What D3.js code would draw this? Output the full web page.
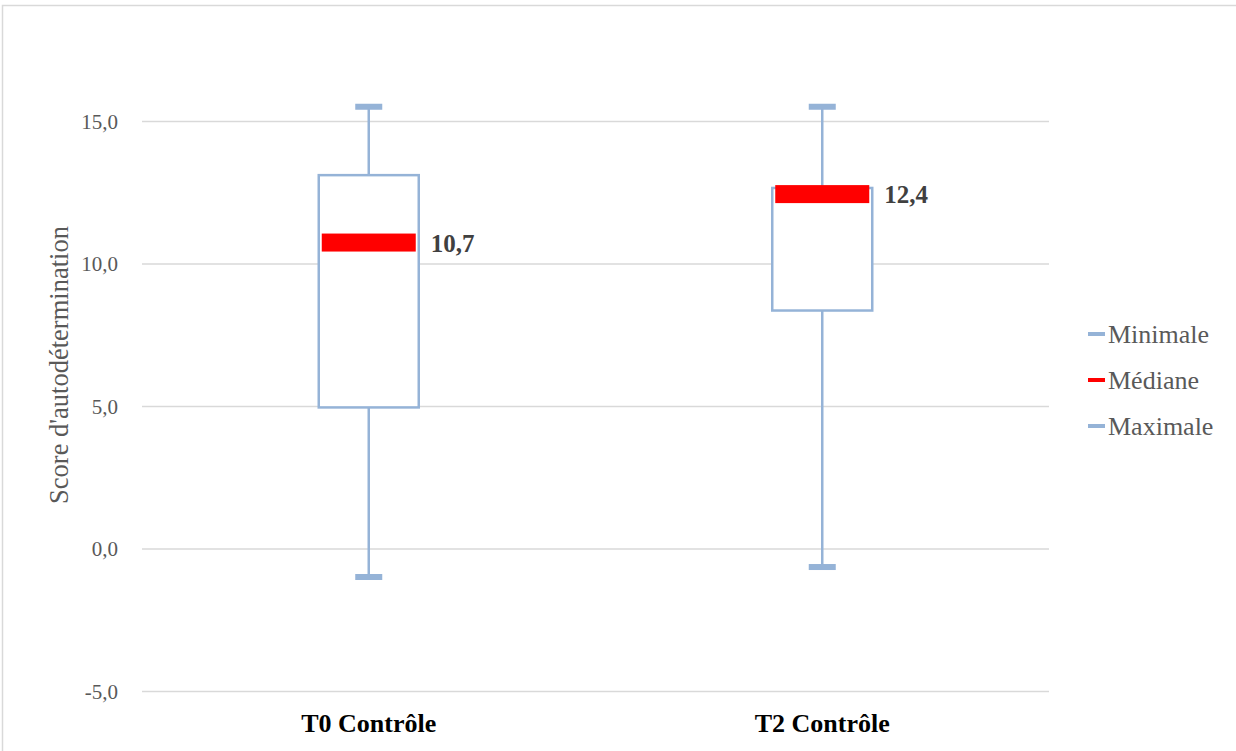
<!DOCTYPE html>
<head>
<meta charset="utf-8">
<title>Score d'autodétermination</title>
<style>
html, body { margin: 0; padding: 0; background: #fff; }
svg text { font-family: 'Liberation Serif', 'Times New Roman', 'DejaVu Serif', serif; }
.grid line { stroke: #d9d9d9; stroke-width: 1.5px; }
.tick text { fill: #595959; }
</style>
</head>
<body>
<svg width="1236" height="751"></svg>
<script src="https://d3js.org/d3.v7.min.js"></script>
<script>
var categories = ["T0 Contrôle", "T2 Contrôle"];
var minimale = [-1.0, -0.65];
var q1 = [4.95, 8.35];
var mediane = [10.7, 12.4];
var q3 = [13.1, 12.65];
var maximale = [15.5, 15.5];
var medianLabels = ["10,7", "12,4"];
var yTicks = [-5, 0, 5, 10, 15];
var legendItems = ["Minimale", "Médiane", "Maximale"];

var svg = d3.select("svg");
var blue = "#95b3d7";

// chart frame
svg.append("path")
  .attr("d", "M2.5,751 V5.5 H1236")
  .attr("fill", "none")
  .attr("stroke", "#d9d9d9")
  .attr("stroke-width", 1.5);

var x = d3.scaleBand().domain(categories).range([142, 1049]);
var y = d3.scaleLinear().domain([-5, 15]).range([691, 121]);

// gridlines + labels
var yAxis = svg.append("g").attr("class", "grid")
  .attr("transform", "translate(142,0)")
  .call(d3.axisLeft(y).tickValues(yTicks).tickSize(-907)
    .tickFormat(function(d) { return d.toFixed(1).replace(".", ","); }));
yAxis.select(".domain").remove();
yAxis.attr("font-family", null);
yAxis.selectAll("text").attr("x", -24).attr("dy", "0.34em").style("font-size", "21px");

svg.append("text")
  .attr("transform", "translate(68,365) rotate(-90)")
  .attr("text-anchor", "middle")
  .style("font-size", "26.5px")
  .attr("fill", "#595959")
  .text("Score d'autodétermination");

// category labels
svg.selectAll(".cat").data(categories).enter().append("text")
  .attr("x", function(d) { return x(d) + x.bandwidth() / 2; })
  .attr("y", 732)
  .attr("text-anchor", "middle")
  .style("font-size", "26px")
  .style("font-weight", "bold")
  .attr("fill", "#000")
  .text(function(d) { return d; });

var boxW = 100, capW = 27;
var g = svg.selectAll(".box").data(categories).enter().append("g")
  .attr("transform", function(d) { return "translate(" + (x(d) + x.bandwidth() / 2) + ",0)"; });

// whiskers
g.append("line")
  .attr("x1", 0).attr("x2", 0)
  .attr("y1", function(d, i) { return y(maximale[i]); })
  .attr("y2", function(d, i) { return y(minimale[i]); })
  .attr("stroke", blue).attr("stroke-width", 2.5);

// caps
[minimale, maximale].forEach(function(arr) {
  g.append("rect")
    .attr("x", -capW / 2).attr("width", capW)
    .attr("y", function(d, i) { return y(arr[i]) - 3; })
    .attr("height", 6)
    .attr("fill", blue);
});

// box
g.append("rect")
  .attr("x", -boxW / 2).attr("width", boxW)
  .attr("y", function(d, i) { return y(Math.max(q1[i], q3[i])); })
  .attr("height", function(d, i) { return Math.abs(y(q1[i]) - y(q3[i])); })
  .attr("fill", "#fff")
  .attr("stroke", blue).attr("stroke-width", 2.5);

// median bar
g.append("rect")
  .attr("x", -47).attr("width", 94)
  .attr("y", function(d, i) { return y(mediane[i]) - 10; })
  .attr("height", 18)
  .attr("fill", "#ff0000");

g.append("text")
  .attr("x", 62)
  .attr("y", function(d, i) { return y(mediane[i]) + 8; })
  .style("font-size", "25px")
  .style("font-weight", "bold")
  .attr("fill", "#404040")
  .text(function(d, i) { return medianLabels[i]; });

// legend
var legendColors = [blue, "#ff0000", blue];
var lg = svg.selectAll(".leg").data(legendItems).enter().append("g")
  .attr("transform", function(d, i) { return "translate(1088," + (334 + i * 46) + ")"; });
lg.append("rect")
  .attr("x", 0).attr("y", -2).attr("width", 17).attr("height", 4)
  .attr("fill", function(d, i) { return legendColors[i]; });
lg.append("text")
  .attr("x", 20).attr("y", 9)
  .style("font-size", "26px")
  .attr("fill", "#595959")
  .text(function(d) { return d; });
</script>
</body>
